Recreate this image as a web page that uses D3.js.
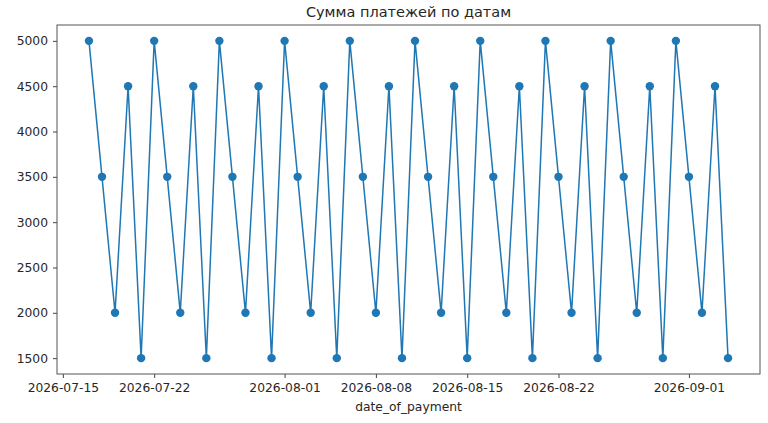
<!DOCTYPE html>
<html>
<head>
<meta charset="utf-8">
<script src="https://cdn.jsdelivr.net/npm/d3@7"></script>
<style>
  body { margin: 0; background: #fff; }
  text { font-family: "DejaVu Sans", sans-serif; fill: #262626; }
</style>
</head>
<body>
<div id="chart"></div>
<script>
// data
var startDate = "2026-07-17";
var amounts = [
  5000, 3500, 2000, 4500, 1500,
  5000, 3500, 2000, 4500, 1500,
  5000, 3500, 2000, 4500, 1500,
  5000, 3500, 2000, 4500, 1500,
  5000, 3500, 2000, 4500, 1500,
  5000, 3500, 2000, 4500, 1500,
  5000, 3500, 2000, 4500, 1500,
  5000, 3500, 2000, 4500, 1500,
  5000, 3500, 2000, 4500, 1500,
  5000, 3500, 2000, 4500, 1500
];
var xTickLabels = ["2026-07-15", "2026-07-22", "2026-08-01", "2026-08-08", "2026-08-15", "2026-08-22", "2026-09-01"];
var yTicks = [1500, 2000, 2500, 3000, 3500, 4000, 4500, 5000];
var title = "Сумма платежей по датам";
var xLabel = "date_of_payment";

var parse = d3.timeParse("%Y-%m-%d");
var fmt = d3.timeFormat("%Y-%m-%d");
var data = amounts.map(function(v, i) {
  return { date: d3.timeDay.offset(parse(startDate), i), amount: v };
});

// styling
var svgWidth = 768, svgHeight = 423;
var margin = { top: 25, right: 8, bottom: 49, left: 57 };
var width = svgWidth - margin.left - margin.right;
var height = svgHeight - margin.top - margin.bottom;

var svg = d3.select("#chart").append("svg")
  .attr("width", svgWidth)
  .attr("height", svgHeight);

var chartGroup = svg.append("g")
  .attr("transform", `translate(${margin.left}, ${margin.top})`);

// scales with matplotlib-like 5% padding
var xExt = d3.extent(data, d => d.date);
var xPad = (xExt[1] - xExt[0]) * 0.05;
var xScale = d3.scaleTime()
  .domain([new Date(+xExt[0] - xPad), new Date(+xExt[1] + xPad)])
  .range([0, width]);

var yExt = d3.extent(data, d => d.amount);
var yPad = (yExt[1] - yExt[0]) * 0.05;
var yScale = d3.scaleLinear()
  .domain([yExt[0] - yPad, yExt[1] + yPad])
  .range([height, 0]);

// axes
var xAxis = d3.axisBottom(xScale)
  .tickValues(xTickLabels.map(parse))
  .tickFormat(fmt)
  .tickSize(4)
  .tickPadding(5);
var yAxis = d3.axisLeft(yScale)
  .tickValues(yTicks)
  .tickFormat(d3.format("d"))
  .tickSize(4)
  .tickPadding(5);

var gx = chartGroup.append("g")
  .attr("transform", `translate(0, ${height})`)
  .call(xAxis);
var gy = chartGroup.append("g").call(yAxis);

[gx, gy].forEach(function(g) {
  g.select(".domain").remove();
  g.selectAll(".tick line").attr("stroke", "#444");
  g.selectAll(".tick text").attr("font-size", "12.3px").style("fill", "#262626");
});

// frame
chartGroup.append("rect")
  .attr("width", width)
  .attr("height", height)
  .attr("fill", "none")
  .attr("stroke", "#555")
  .attr("stroke-width", 1);

// line
var line = d3.line()
  .x(d => xScale(d.date))
  .y(d => yScale(d.amount));

chartGroup.append("path")
  .datum(data)
  .attr("fill", "none")
  .attr("stroke", "#1f77b4")
  .attr("stroke-width", 1.5)
  .attr("d", line);

chartGroup.selectAll("circle")
  .data(data)
  .enter()
  .append("circle")
  .attr("cx", d => xScale(d.date))
  .attr("cy", d => yScale(d.amount))
  .attr("r", 4.2)
  .attr("fill", "#1f77b4");

// labels
svg.append("text")
  .attr("x", margin.left + width / 2)
  .attr("y", 17)
  .attr("text-anchor", "middle")
  .attr("font-size", "14.5px")
  .text(title);

svg.append("text")
  .attr("x", margin.left + width / 2)
  .attr("y", 411)
  .attr("text-anchor", "middle")
  .attr("font-size", "12.3px")
  .text(xLabel);
</script>
</body>
</html>
